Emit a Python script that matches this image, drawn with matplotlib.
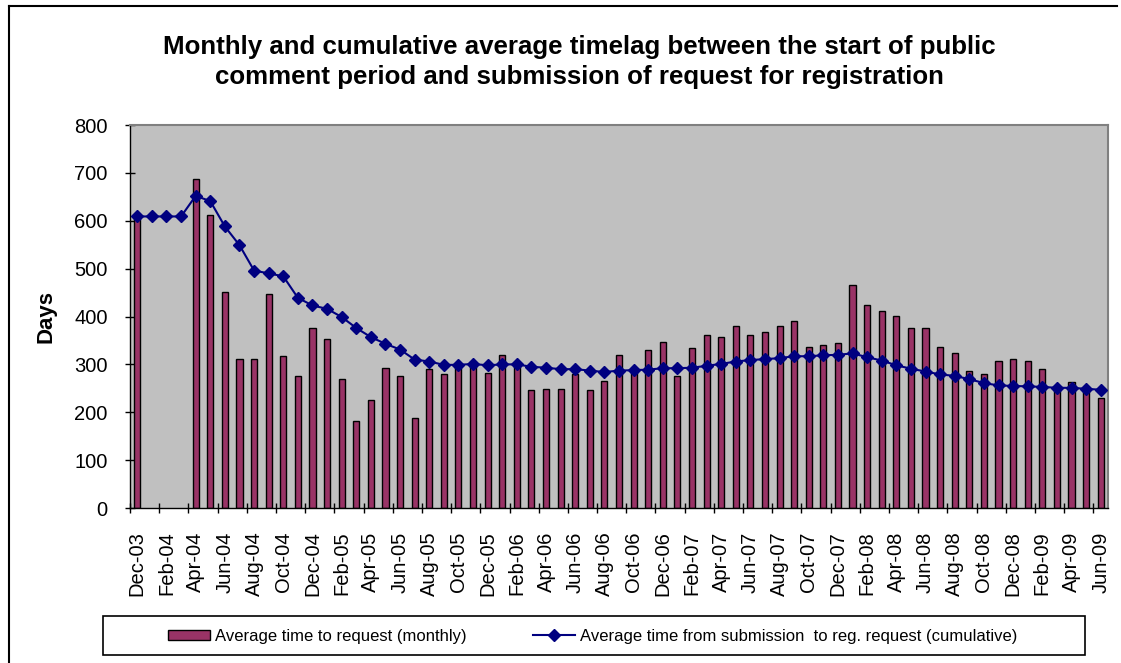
import numpy as np
import pandas as pd
import matplotlib
matplotlib.use('Agg')
import matplotlib.pyplot as plt
from matplotlib.patches import Rectangle
from matplotlib.lines import Line2D

plt.rcParams['font.family'] = ['Liberation Sans', 'DejaVu Sans']

# months Dec-03 .. Jun-09
months = pd.date_range('2003-12-01', periods=67, freq='MS').strftime('%b-%y').tolist()

# average time to request, monthly (days); no requests Jan-Mar 04
monthly = [605, np.nan, np.nan, np.nan, 688, 611, 452, 311, 311, 446, 318, 276,
           375, 354, 270, 182, 226, 293, 276, 189, 290, 280, 300, 298,
           283, 320, 298, 246, 249, 249, 279, 246, 266, 320, 285, 330,
           347, 276, 334, 361, 357, 381, 361, 368, 381, 391, 337, 341,
           344, 466, 425, 412, 402, 377, 377, 337, 324, 287, 280, 307,
           311, 307, 290, 250, 263, 246, 229]

# cumulative average time (days)
cumulative = [609, 609, 609, 609, 652, 641, 588, 549, 496, 490, 484, 439,
              423, 416, 399, 376, 357, 343, 331, 310, 306, 299, 299, 301,
              298, 300, 300, 295, 293, 290, 290, 287, 284, 287, 288, 289,
              292, 292, 293, 297, 301, 306, 309, 311, 313, 317, 317, 319,
              320, 323, 315, 308, 298, 291, 285, 279, 276, 269, 261, 256,
              255, 254, 253, 251, 251, 249, 247]

W, H = 1121, 663
fig = plt.figure(figsize=(W / 100, H / 100), dpi=100)
fig.patch.set_facecolor('white')

ax = fig.add_axes([130 / W, 1 - 508 / H, (1108 - 130) / W, (508 - 125) / H])
ax.set_facecolor('#C0C0C0')

x = np.arange(len(months))
bars = ax.bar(x, monthly, width=0.42, color='#993366', edgecolor='black', linewidth=1,
              label='Average time to request (monthly)', zorder=2)
line, = ax.plot(x, cumulative, color='#000080', linewidth=1.5, marker='D', markersize=6.5,
                label='Average time from submission  to reg. request (cumulative)', zorder=3)

ax.set_xlim(-0.5, len(months) - 0.5)
ax.set_ylim(0, 800)
ax.set_yticks(range(0, 801, 100))
ax.tick_params(axis='y', direction='inout', length=7, width=1, pad=12.5, labelsize=14.5)

ax.set_xticks(x[::2])
ax.set_xticklabels(months[::2], rotation=90, fontsize=14.5)
ax.set_xticks(np.arange(-0.5, len(months) - 1, 2), minor=True)
ax.tick_params(axis='x', which='major', length=0, pad=17)
ax.tick_params(axis='x', which='minor', direction='inout', length=7, width=1)

for s in ['left', 'bottom']:
    ax.spines[s].set_color('black')
    ax.spines[s].set_linewidth(1)
for s in ['top', 'right']:
    ax.spines[s].set_color('#808080')
    ax.spines[s].set_linewidth(1.5)

ax.set_ylabel('Days', fontsize=16, fontweight='bold')
ax.yaxis.set_label_coords((56 - 130) / (1108 - 130), 0.5)

fig.text(579 / W, 1 - 35 / H,
         'Monthly and cumulative average timelag between the start of public\n'
         'comment period and submission of request for registration',
         ha='center', va='top', fontsize=18.6, fontweight='bold', linespacing=1.3)

# legend with its own box
leg = fig.legend(handles=[bars, line], loc='center', bbox_to_anchor=(593 / W, 1 - 636 / H),
                 ncol=2, frameon=False, fontsize=12, handlelength=2.5, handleheight=0.55,
                 handletextpad=0.3, columnspacing=4.0)
fig.add_artist(Rectangle((103 / W, 1 - 655 / H), (1085 - 103) / W, (655 - 616) / H,
                         transform=fig.transFigure, fill=False, edgecolor='black',
                         linewidth=1.2))

# outer chart border (runs off the right and bottom of the picture)
fig.add_artist(Line2D([9 / W, 9 / W], [0, 1 - 6 / H], transform=fig.transFigure,
                      color='black', linewidth=1.5))
fig.add_artist(Line2D([9 / W, 1117 / W], [1 - 6 / H, 1 - 6 / H], transform=fig.transFigure,
                      color='black', linewidth=1.5))

fig.savefig('out.png', dpi=100)
